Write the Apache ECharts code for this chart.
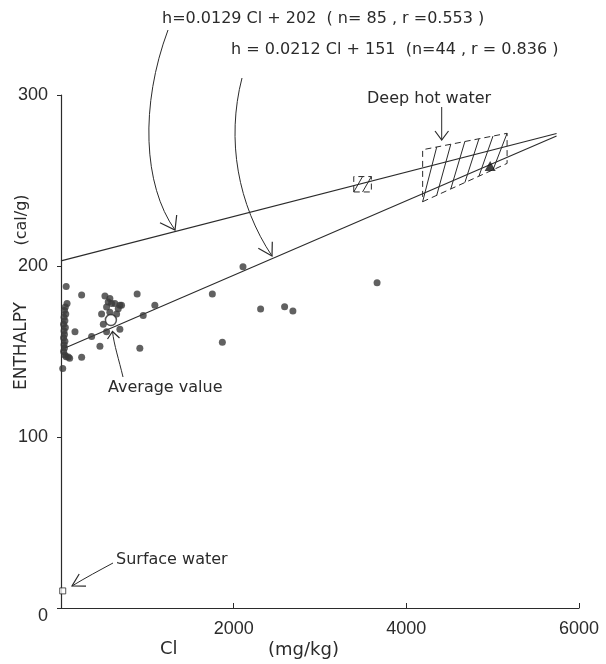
<!DOCTYPE html>
<html><head><meta charset="utf-8">
<script src="https://cdn.jsdelivr.net/npm/echarts@6/dist/echarts.min.js"></script>
<style>html,body{margin:0;padding:0;background:#fff}#c{width:606px;height:664px}</style>
</head><body><div id="c"></div>
<script>
// ---- data ----
const xTicks = [0, 2000, 4000, 6000];
const yTicks = [0, 100, 200, 300];
const samplePoints = [
  [60,188],[70,178],[50,176],[40,174],[55,172],[35,170],[45,168],[30,166],[50,164],[35,162],
  [40,160],[30,158],[45,156],[35,154],[40,152],[30,150],[45,148],[60,147],[100,146],[20,140],
  [509,182.5],[566,181],[547,179],[586,178],[528,176],[624,178],[682,177],[663,175],[701,177],
  [470,172],[566,173],[644,172],[490,166],[528,161.6],[682,163],
  [239,183],[882,183.6],[1087,177],[952,171],[1753,183.6],[162,161.6],[355,158.7],[451,153],
  [913,151.9],[239,146.6],[85,146.8],
  [2108,199.6],[2312,174.9],[2590,176.2],[2686,173.7],[1869,155.4],[3661,190.2]
];
const averageValue = [[578,168.4]];
const deepHotWaterPoint = [[4971,258.5]];
const surfaceWater = [[20,10]];
const regressionLine1 = [[0,203],[5740,277.5]];
const regressionLine2 = [[46,152],[5740,276]];
// corners: bottom-left, bottom-right, top-right, top-left; last = number of hatch strokes
const deepHotRegion = [4189,237.6, 5167,260, 5167,277.6, 4189,268, 6];
const smallRegion = [3391,243.3, 3595,243.3, 3595,252.3, 3391,252.3, 2];
const eq1 = 'h=0.0129 Cl + 202  ( n= 85 , r =0.553 )';
const eq2 = 'h = 0.0212 Cl + 151  (n=44 , r = 0.836 )';

const FONT = 'Liberation Sans';
const TFONT = 'DejaVu Sans';
const INK = '#2b2b2b';

function renderRegion(params, api) {
  const p = [0,1,2,3].map(i => api.coord([api.value(2*i), api.value(2*i+1)]));
  const n = api.value(8);
  const lerp = (a,b,t) => [a[0]+(b[0]-a[0])*t, a[1]+(b[1]-a[1])*t];
  const children = [{type:'polygon', shape:{points:p}, style:{fill:'none', stroke:INK, lineWidth:1, lineDash:[6,4]}}];
  for (let i = 0; i < n; i++) {
    const b = lerp(p[0], p[1], i/n);
    const t = lerp(p[3], p[2], (i+1)/n);
    children.push({type:'line', shape:{x1:b[0], y1:b[1], x2:t[0], y2:t[1]}, style:{stroke:INK, lineWidth:1}});
  }
  return {type:'group', children};
}

function arrow(curve, arms) {
  const els = [];
  if (curve.length === 4) {
    els.push({type:'bezierCurve', shape:{x1:curve[0][0], y1:curve[0][1], cpx1:curve[1][0], cpy1:curve[1][1], cpx2:curve[2][0], cpy2:curve[2][1], x2:curve[3][0], y2:curve[3][1]}, style:{stroke:INK, lineWidth:1, fill:null}});
  } else {
    els.push({type:'line', shape:{x1:curve[0][0], y1:curve[0][1], x2:curve[1][0], y2:curve[1][1]}, style:{stroke:INK, lineWidth:1}});
  }
  const tip = curve[curve.length-1];
  els.push({type:'polyline', shape:{points:[arms[0], tip, arms[1]]}, style:{stroke:INK, lineWidth:1.2, fill:null}});
  return els;
}
function txt(x, y, s, size, rotate) {
  const el = {type:'text', x, y, style:{text:s, font: size + 'px "' + TFONT + '"', fill:INK, textVerticalAlign:'middle'}};
  if (rotate) { el.rotation = Math.PI/2; el.style.textAlign = 'center'; }
  return el;
}

const chart = echarts.init(document.getElementById('c'));
chart.setOption({
  backgroundColor:'#fff',
  animation:false,
  grid:{left:61, right:27, top:95, bottom:56},
  xAxis:{type:'value', min:xTicks[0], max:xTicks[xTicks.length-1], interval:xTicks[1]-xTicks[0],
    axisLine:{lineStyle:{color:INK, width:1.2}}, axisTick:{inside:true, length:5, lineStyle:{color:INK}},
    splitLine:{show:false}, axisLabel:{showMinLabel:false, color:INK, fontSize:18, fontFamily:FONT, margin:12, formatter: v => String(v)}},
  yAxis:{type:'value', min:yTicks[0], max:yTicks[yTicks.length-1], interval:yTicks[1]-yTicks[0],
    axisLine:{show:true, lineStyle:{color:INK, width:1.2}}, axisTick:{show:true, length:4, lineStyle:{color:INK}},
    splitLine:{show:false},
    axisLabel:{color:INK, fontSize:18, fontFamily:FONT, margin:13,
      formatter: v => v === 0 ? '{z|0}' : String(v),
      rich:{z:{padding:[16,0,0,0], fontSize:18, fontFamily:FONT, color:INK}}}},
  series:[
    {type:'line', data:regressionLine1, showSymbol:false, lineStyle:{color:INK, width:1.1}, z:1},
    {type:'line', data:regressionLine2, showSymbol:false, lineStyle:{color:INK, width:1.1}, z:1},
    {type:'custom', renderItem:renderRegion, data:[deepHotRegion, smallRegion], encode:{x:[0,2,4,6], y:[1,3,5,7]}, z:2},
    {type:'scatter', data:samplePoints, symbolSize:7, itemStyle:{color:'#3a3a3a'}, z:3},
    {type:'scatter', data:averageValue, symbolSize:11, itemStyle:{color:'#fff', borderColor:INK, borderWidth:1.5}, z:4},
    {type:'scatter', data:deepHotWaterPoint, symbol:'triangle', symbolSize:[11,10], itemStyle:{color:'#111'}, z:4},
    {type:'scatter', data:surfaceWater, symbol:'rect', symbolSize:6, itemStyle:{color:'#fff', borderColor:INK, borderWidth:1}, z:4}
  ],
  graphic:[
    txt(162, 19, eq1, 16),
    txt(231, 50, eq2, 16),
    txt(367, 99, 'Deep hot water', 16),
    txt(108, 388, 'Average value', 16),
    txt(116, 560, 'Surface water', 16),
    txt(160, 649, 'Cl', 18),
    txt(268, 650, '(mg/kg)', 18),
    txt(22, 346, 'ENTHALPY', 17, true),
    txt(22, 220, '(cal/g)', 16, true),
    ...arrow([[168,30],[140,105],[143,185],[175,230]], [[160,222.7],[176.7,215]]),
    ...arrow([[242,78],[226,140],[238,205],[272,256]], [[258.3,248.3],[272.3,241.7]]),
    ...arrow([[441.7,107],[441.7,140]], [[435,131],[448.5,131]]),
    ...arrow([[123,377],[119,360],[114,345],[112.5,331.5]], [[107.5,339],[119.5,338]]),
    ...arrow([[113,563],[100,570],[85,578],[72,586]], [[79.2,574],[86,586.2]])
  ]
});
</script></body></html>
